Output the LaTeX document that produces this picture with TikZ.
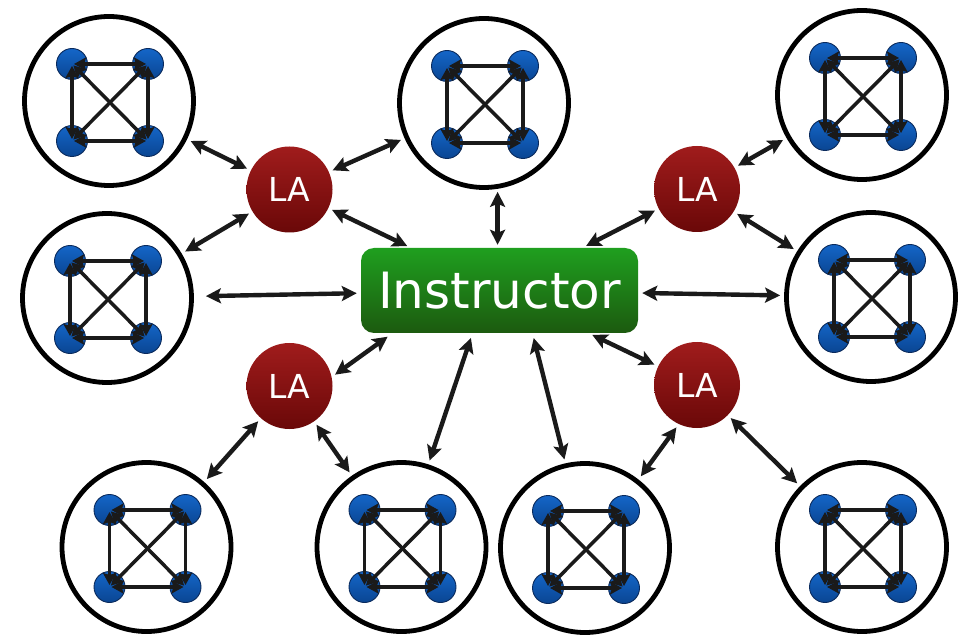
\documentclass[tikz,border=0pt]{standalone}
\usepackage{fontspec}
\newfontfamily\dejavu{DejaVu Sans}
\usetikzlibrary{arrows.meta}

\definecolor{lared1}{HTML}{A01C1C}
\definecolor{lared2}{HTML}{6A0808}
\definecolor{ingreen1}{HTML}{1F9F1F}
\definecolor{ingreen2}{HTML}{1C5A0F}
\definecolor{dotblue1}{HTML}{1466C8}
\definecolor{dotblue2}{HTML}{0A4592}
\definecolor{dotline}{HTML}{0A2A5C}
\definecolor{arrowc}{HTML}{1A1A1A}

\tikzset{
  grpcircle/.style={circle, draw=black, line width=4.8pt, fill=white, minimum size=169pt, inner sep=0pt},
  bluedot/.style={circle, draw=dotline, line width=0.9pt, top color=dotblue1, bottom color=dotblue2, minimum size=31pt, inner sep=0pt},
  lanode/.style={circle, top color=lared1, bottom color=lared2, minimum size=86pt, inner sep=0pt, text=white, font=\dejavu\fontsize{33}{33}\selectfont},
  instrnode/.style={rectangle, rounded corners=13pt, top color=ingreen1, bottom color=ingreen2, minimum width=277pt, minimum height=85pt, inner sep=0pt, text=white, font=\dejavu\fontsize{50}{50}\selectfont},
  conn/.style={draw=arrowc, line width=4.4pt, {Stealth[length=15pt,width=15pt,inset=3pt]}-{Stealth[length=15pt,width=15pt,inset=3pt]}, shorten <=4pt, shorten >=4pt},
  inarrow/.style={draw=arrowc, line width=3.5pt, {Stealth[length=12pt,width=13pt,inset=2pt]}-{Stealth[length=12pt,width=13pt,inset=2pt]}, shorten <=2pt, shorten >=2pt},
}

\newcommand\mygroup[3]{%
  \node[grpcircle] (#1) at (#2,#3) {};
  \node[bluedot] (#1a) at ({#2-37},{#3-37}) {};
  \node[bluedot] (#1b) at ({#2+39},{#3-37}) {};
  \node[bluedot] (#1c) at ({#2-37},{#3+40}) {};
  \node[bluedot] (#1d) at ({#2+39},{#3+40}) {};
  \draw[inarrow] (#1a.center) -- (#1b.center);
  \draw[inarrow] (#1c.center) -- (#1d.center);
  \draw[inarrow] (#1a.center) -- (#1c.center);
  \draw[inarrow] (#1b.center) -- (#1d.center);
  \draw[inarrow] (#1a.center) -- (#1d.center);
  \draw[inarrow] (#1b.center) -- (#1c.center);
}

\begin{document}
\begin{tikzpicture}[x=1pt,y=-1pt]
  \fill[white] (0,0) rectangle (972,636);
  \useasboundingbox (0,0) rectangle (972,636);

  \mygroup{g1}{109}{101}
  \mygroup{g2}{484}{103}
  \mygroup{g3}{862}{95}
  \mygroup{g4}{107}{298}
  \mygroup{g5}{871}{297}
  \mygroup{g6}{146.5}{547}
  \mygroup{g7}{401.5}{547}
  \mygroup{g8}{585}{548}
  \mygroup{g9}{862}{547}

  \node[lanode] (la1) at (289.5,189.5) {LA};
  \node[lanode] (la2) at (697,189) {LA};
  \node[lanode] (la3) at (289.5,386) {LA};
  \node[lanode] (la4) at (697,385) {LA};

  \node[instrnode] (instr) at (499.5,290.5) {Instructor};

  \draw[conn] (g1) -- (la1);
  \draw[conn] (la1) -- (g2);
  \draw[conn] (la1) -- (g4);
  \draw[conn] (la1) -- (instr);
  \draw[conn, shorten <=3pt, shorten >=3pt] (g2.-81) -- (g2.-81 |- instr.north);
  \draw[conn] (la2) -- (g3);
  \draw[conn] (la2) -- (g5);
  \draw[conn] (la2) -- (instr);
  \draw[conn, shorten >=12pt] (instr) -- (g4);
  \draw[conn] (instr) -- (g5);
  \draw[conn, shorten >=6pt] (la3.12) -- ([xshift=-107pt]instr.south);
  \draw[conn] (la3) -- (g6);
  \draw[conn] (la3) -- (g7);
  \draw[conn, shorten <=5pt] ([xshift=-27pt]instr.south) -- (g7.72);
  \draw[conn, shorten <=5pt] ([xshift=33pt]instr.south) -- (g8.103);
  \draw[conn] (la4) -- (instr);
  \draw[conn] (la4.-115) -- (g8.52);
  \draw[conn] (la4) -- (g9);
\end{tikzpicture}
\end{document}
